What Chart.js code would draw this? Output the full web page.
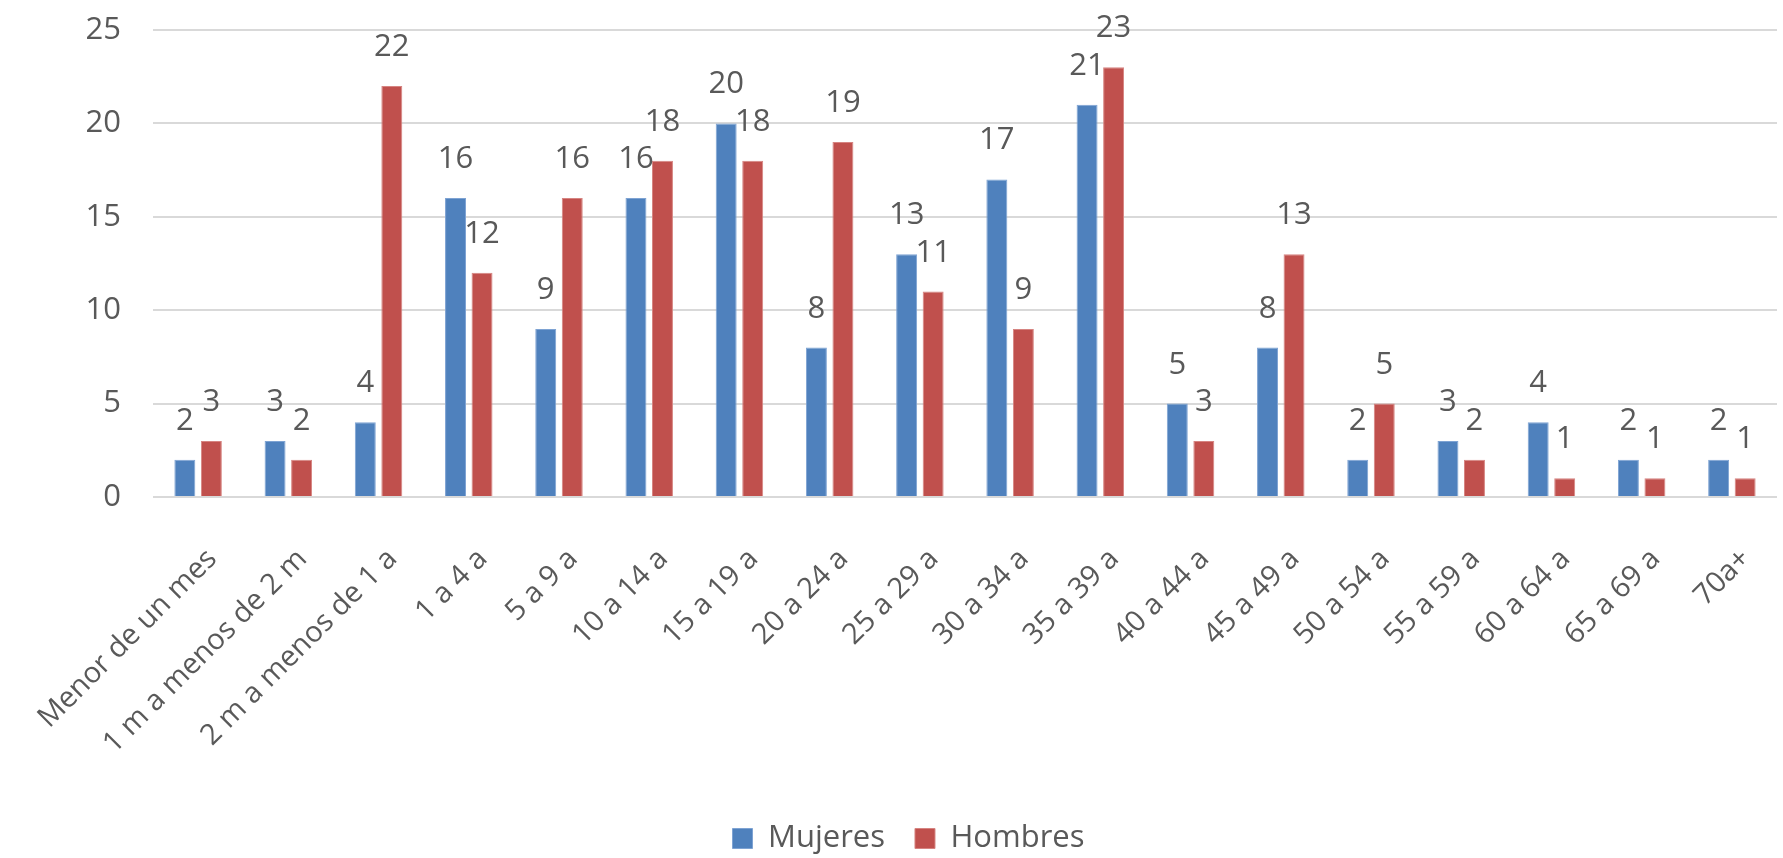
<!DOCTYPE html>
<html lang="es">
<head>
<meta charset="utf-8">
<title>Casos por grupo de edad y sexo</title>
<script src="https://cdn.jsdelivr.net/npm/chart.js@4.4.1/dist/chart.umd.min.js"></script>
<style>
  html, body { margin: 0; padding: 0; background: #ffffff; }
  #wrap { width: 1783px; height: 858px; position: relative; }
</style>
</head>
<body>
<div id="wrap"><canvas id="chart" width="1783" height="858"></canvas></div>
<script>
// Age groups on the horizontal axis
const categories = [
  'Menor de un mes', '1 m a menos de 2 m', '2 m a menos de 1 a', '1 a 4 a',
  '5 a 9 a', '10 a 14 a', '15 a 19 a', '20 a 24 a', '25 a 29 a', '30 a 34 a',
  '35 a 39 a', '40 a 44 a', '45 a 49 a', '50 a 54 a', '55 a 59 a', '60 a 64 a',
  '65 a 69 a', '70a+'
];

// Counts per group
const mujeres = [2, 3, 4, 16, 9, 16, 20, 8, 13, 17, 21, 5, 8, 2, 3, 4, 2, 2];
const hombres = [3, 2, 22, 12, 16, 18, 18, 19, 11, 9, 23, 3, 13, 5, 2, 1, 1, 1];

// Value axis ticks
const yTicks = [0, 5, 10, 15, 20, 25];

const FONT = "'Open Sans', 'Liberation Sans', sans-serif";
const TEXT = '#595959';

// Writes each bar's value just above its top
const valueLabels = {
  id: 'valueLabels',
  afterDatasetsDraw(chart) {
    const ctx = chart.ctx;
    ctx.save();
    ctx.font = '31px ' + FONT;
    ctx.fillStyle = TEXT;
    ctx.textAlign = 'center';
    ctx.textBaseline = 'alphabetic';
    chart.data.datasets.forEach((ds, i) => {
      const meta = chart.getDatasetMeta(i);
      meta.data.forEach((bar, j) => {
        ctx.fillText(String(ds.data[j]), bar.x, bar.y - 30);
      });
    });
    ctx.restore();
  }
};

// Nudges the legend row a little to the right of the default centring
const legendShift = {
  id: 'legendShift',
  afterLayout(chart) {
    if (chart.legend) {
      chart.legend.left += 20;
      chart.legend.right += 20;
    }
  }
};

new Chart(document.getElementById('chart'), {
  type: 'bar',
  data: {
    labels: categories,
    datasets: [
      {
        label: 'Mujeres',
        data: mujeres,
        backgroundColor: '#4F81BD',
        borderColor: '#7EA3D3',
        borderWidth: 1
      },
      {
        label: 'Hombres',
        data: hombres,
        backgroundColor: '#C0504D',
        borderColor: '#D68481',
        borderWidth: 1
      }
    ]
  },
  options: {
    responsive: false,
    animation: false,
    devicePixelRatio: 1,
    layout: { padding: { top: 30, right: 6, left: 0, bottom: -6 } },
    datasets: {
      bar: { categoryPercentage: 0.588, barPercentage: 0.79 }
    },
    scales: {
      x: {
        grid: { display: false },
        border: { display: false },
        ticks: {
          color: TEXT,
          font: { family: FONT, size: 29 },
          minRotation: 45,
          maxRotation: 45,
          autoSkip: false,
          padding: 37,
          labelOffset: 14
        },
        afterFit(scale) {
          scale.height = 296;
          scale.paddingLeft = 0;
          scale.paddingRight = 0;
        }
      },
      y: {
        min: 0,
        max: 25,
        afterBuildTicks(scale) { scale.ticks = yTicks.map(v => ({ value: v })); },
        grid: { color: '#D9D9D9', lineWidth: 2, drawTicks: false },
        border: { display: false },
        ticks: {
          color: TEXT,
          font: { family: FONT, size: 31 },
          padding: 32
        },
        afterFit(scale) {
          scale.width = 153;
          scale.paddingTop = 0;
          scale.paddingBottom = 0;
        }
      }
    },
    plugins: {
      legend: {
        position: 'bottom',
        labels: {
          color: TEXT,
          font: { family: FONT, size: 31 },
          boxWidth: 20,
          boxHeight: 20,
          padding: 30
        }
      },
      tooltip: { enabled: false }
    }
  },
  plugins: [valueLabels, legendShift]
});
</script>
</body>
</html>
